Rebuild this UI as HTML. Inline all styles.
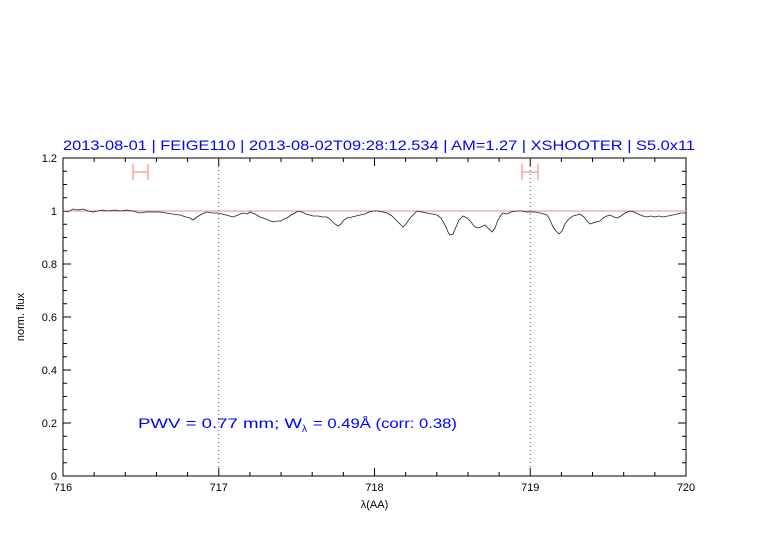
<!DOCTYPE html>
<html><head><meta charset="utf-8"><style>
html,body{margin:0;padding:0;background:#fff;}
svg{display:block;font-family:"Liberation Sans",sans-serif;}
</style></head><body>
<svg width="782" height="542" viewBox="0 0 782 542" xmlns="http://www.w3.org/2000/svg">
<rect width="782" height="542" fill="#fff"/>
<text x="63" y="150" font-size="14" fill="#0000ff" textLength="632" lengthAdjust="spacingAndGlyphs">2013-08-01 | FEIGE110 | 2013-08-02T09:28:12.534 | AM=1.27 | XSHOOTER | S5.0x11</text>
<g stroke="#000" stroke-width="1" fill="none">
<rect x="63" y="158" width="623" height="318"/>
<path d="
M63,476v-8M63,158v8M218.75,476v-8M218.75,158v8M374.5,476v-8M374.5,158v8M530.25,476v-8M530.25,158v8M686,476v-8M686,158v8
M94.15,476v-4M125.3,476v-4M156.45,476v-4M187.6,476v-4M249.9,476v-4M281.05,476v-4M312.2,476v-4M343.35,476v-4M405.65,476v-4M436.8,476v-4M467.95,476v-4M499.1,476v-4M561.4,476v-4M592.55,476v-4M623.7,476v-4M654.85,476v-4
M94.15,158v4M125.3,158v4M156.45,158v4M187.6,158v4M249.9,158v4M281.05,158v4M312.2,158v4M343.35,158v4M405.65,158v4M436.8,158v4M467.95,158v4M499.1,158v4M561.4,158v4M592.55,158v4M623.7,158v4M654.85,158v4"/>
</g>
<g stroke="#000" stroke-width="1">
<path d="M63,423h8M63,370h8M63,317h8M63,264h8M63,211h8M686,423h-8M686,370h-8M686,317h-8M686,264h-8M686,211h-8
M63,462.75h4M63,449.5h4M63,436.25h4M63,409.75h4M63,396.5h4M63,383.25h4M63,356.75h4M63,343.5h4M63,330.25h4M63,303.75h4M63,290.5h4M63,277.25h4M63,250.75h4M63,237.5h4M63,224.25h4M63,197.75h4M63,184.5h4M63,171.25h4
M686,462.75h-4M686,449.5h-4M686,436.25h-4M686,409.75h-4M686,396.5h-4M686,383.25h-4M686,356.75h-4M686,343.5h-4M686,330.25h-4M686,303.75h-4M686,290.5h-4M686,277.25h-4M686,250.75h-4M686,237.5h-4M686,224.25h-4M686,197.75h-4M686,184.5h-4M686,171.25h-4"/>
</g>
<g stroke="#555" stroke-dasharray="1,3">
<line x1="218.75" y1="158" x2="218.75" y2="476"/>
<line x1="530.25" y1="158" x2="530.25" y2="476"/>
</g>
<line x1="63" y1="211" x2="686" y2="211" stroke="#e88" stroke-width="1"/>
<g stroke="#f77" stroke-width="1">
<path d="M133,172h15M133,164v16M148,164v16"/>
<path d="M522,172h16M522,164v16M538,164v16"/>
</g>
<polyline fill="none" stroke="#222" stroke-width="0.8" points="63,211 68,212 73,209 78,210 83,209 88,211 93,212 98,211 103,210 108,211 115,210 120,211 127,210 133,211 140,213 146,212 153,212 160,212 166,213 172,214 180,215 186,217 190,218 193,220 197,217 202,214 207,212 212,213 218,213 222,214 226,215 233,217 238,215 243,213 247,214 250,212 255,214 260,217 266,219 273,222 277,221 281,221 284,219 287,218 291,215 295,213 298,211 302,212 306,214 313,216 318,216 323,217 327,217 331,220 335,224 338,226 341,224 344,220 347,218 352,217 356,216 360,215 365,214 369,212 373,211 378,211 383,212 387,213 392,216 397,221 400,224 403,227 406,224 410,218 413,215 417,211 422,212 427,213 432,214 437,215 441,218 445,225 448,232 450,235 453,234 456,227 459,220 463,216 467,218 471,222 474,226 477,228 481,227 485,225 488,228 492,232 495,228 498,220 501,215 503,213 507,214 511,212 517,211 522,211 527,212 530,212 535,212 540,213 544,214 547,215 550,220 553,227 556,231 559,234 562,231 565,224 568,220 570,218 573,216 577,215 580,214 584,217 587,221 590,224 593,223 596,222 600,221 603,218 607,216 610,215 614,217 617,218 621,216 625,213 630,211 634,212 638,214 643,216 647,217 651,216 655,217 659,216 663,217 668,216 673,215 677,214 681,213 686,213"/>
<g font-size="11" text-anchor="middle" fill="#000">
<text x="63" y="491">716</text><text x="218.75" y="491">717</text><text x="374.5" y="491">718</text><text x="530.25" y="491">719</text><text x="686" y="491">720</text>
</g>
<g font-size="11" text-anchor="end" fill="#000">
<text x="57" y="480">0</text><text x="57" y="427">0.2</text><text x="57" y="374">0.4</text><text x="57" y="321">0.6</text><text x="57" y="268">0.8</text><text x="57" y="215">1</text><text x="57" y="162">1.2</text>
</g>
<text x="374.5" y="508" font-size="11" text-anchor="middle">λ(AA)</text>
<text transform="translate(24,317) rotate(-90)" font-size="11" text-anchor="middle">norm. flux</text>
<text x="138" y="428" font-size="14" fill="#0000ff" textLength="164" lengthAdjust="spacingAndGlyphs">PWV = 0.77 mm; W</text>
<text x="302" y="432" font-size="10" fill="#0000ff">λ</text>
<text x="313" y="428" font-size="14" fill="#0000ff" textLength="144" lengthAdjust="spacingAndGlyphs">= 0.49Å (corr: 0.38)</text>
</svg>
</body></html>
